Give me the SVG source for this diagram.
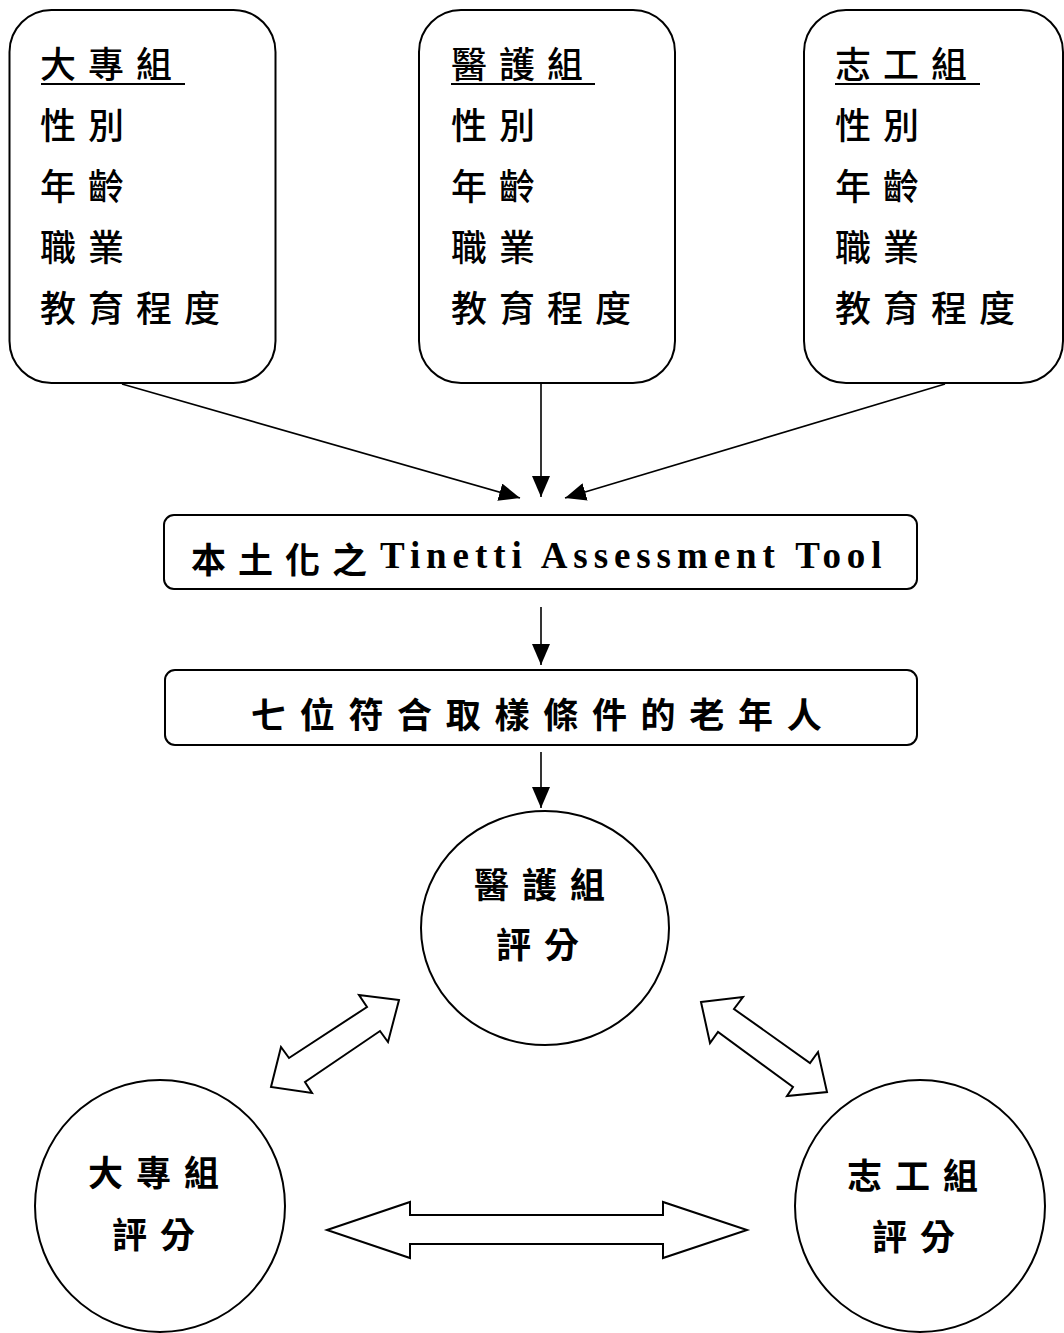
<svg xmlns="http://www.w3.org/2000/svg" width="1064" height="1333" viewBox="0 0 1064 1333">
<style>
.box{fill:#fff;stroke:#000;stroke-width:2}
.cjk{font-family:"Noto Sans CJK TC","Noto Sans CJK SC",sans-serif;fill:#000}
.lst{font-size:36px;letter-spacing:12px;font-weight:500}
.bt{font-size:35px;font-weight:700}
.lat{font-family:"Liberation Serif","Times New Roman",serif;font-weight:700;font-size:37px;letter-spacing:5.5px;fill:#000}
.ul{stroke:#000;stroke-width:2.2}
.con{stroke:#000;stroke-width:1.6;fill:none}
.dbl{fill:#fff;stroke:#000;stroke-width:2;stroke-linejoin:miter}
</style>
<defs>
<marker id="ah" markerUnits="userSpaceOnUse" markerWidth="22" markerHeight="18" refX="21" refY="9" orient="auto">
<path d="M0,0 L21,9 L0,18 z" fill="#000"/>
</marker>
</defs>
<rect width="1064" height="1333" fill="#fff"/>

<g id="box-dazhuan">
<rect class="box" x="9.5" y="10" width="266" height="373" rx="42"/>
<text class="cjk lst" x="40" y="78">大專組</text>
<line class="ul" x1="41" y1="84" x2="185" y2="84"/>
<text class="cjk lst" x="40" y="139">性別</text>
<text class="cjk lst" x="40" y="200">年齡</text>
<text class="cjk lst" x="40" y="261">職業</text>
<text class="cjk lst" x="40" y="322">教育程度</text>
</g>

<g id="box-yihu">
<rect class="box" x="419" y="10" width="256" height="373" rx="42"/>
<text class="cjk lst" x="451" y="78">醫護組</text>
<line class="ul" x1="451" y1="84" x2="595" y2="84"/>
<text class="cjk lst" x="451" y="139">性別</text>
<text class="cjk lst" x="451" y="200">年齡</text>
<text class="cjk lst" x="451" y="261">職業</text>
<text class="cjk lst" x="451" y="322">教育程度</text>
</g>

<g id="box-zhigong">
<rect class="box" x="804" y="10" width="259" height="373" rx="42"/>
<text class="cjk lst" x="835" y="78">志工組</text>
<line class="ul" x1="835" y1="84" x2="980" y2="84"/>
<text class="cjk lst" x="835" y="139">性別</text>
<text class="cjk lst" x="835" y="200">年齡</text>
<text class="cjk lst" x="835" y="261">職業</text>
<text class="cjk lst" x="835" y="322">教育程度</text>
</g>

<g id="tool">
<rect class="box" x="164" y="515" width="753" height="74" rx="10"/>
<text class="cjk bt" x="191" y="573" letter-spacing="12">本土化之</text>
<text class="lat" x="380" y="568" textLength="507" lengthAdjust="spacing">Tinetti Assessment Tool</text>
</g>

<g id="elders">
<rect class="box" x="165" y="670" width="752" height="75" rx="10"/>
<text class="cjk bt" x="251" y="728" letter-spacing="13.7">七位符合取樣條件的老年人</text>
</g>

<g id="score-yihu">
<ellipse class="box" cx="545" cy="928" rx="124" ry="117"/>
<text class="cjk bt" x="474" y="898" letter-spacing="13">醫護組</text>
<text class="cjk bt" x="496" y="958" letter-spacing="13">評分</text>
</g>

<g id="score-dazhuan">
<ellipse class="box" cx="160" cy="1206" rx="125" ry="126"/>
<text class="cjk bt" x="88" y="1186" letter-spacing="13">大專組</text>
<text class="cjk bt" x="112" y="1248" letter-spacing="13">評分</text>
</g>

<g id="score-zhigong">
<ellipse class="box" cx="920" cy="1206" rx="125" ry="126"/>
<text class="cjk bt" x="847" y="1189" letter-spacing="13">志工組</text>
<text class="cjk bt" x="872" y="1250" letter-spacing="13">評分</text>
</g>

<g id="connectors">
<line class="con" x1="122" y1="384" x2="520" y2="498" marker-end="url(#ah)"/>
<line class="con" x1="541" y1="384" x2="541" y2="497" marker-end="url(#ah)"/>
<line class="con" x1="945" y1="384" x2="565" y2="498" marker-end="url(#ah)"/>
<line class="con" x1="541" y1="607" x2="541" y2="665" marker-end="url(#ah)"/>
<line class="con" x1="541" y1="752" x2="541" y2="808" marker-end="url(#ah)"/>
<polygon class="dbl" points="399,1000 359,995 367,1007 289,1058 281,1047 271,1087 312,1093 305,1082 380,1031 388,1042"/>
<polygon class="dbl" points="701,1002 743,997 734,1009 810,1063 818,1052 827,1092 787,1096 793,1087 718,1032 710,1043"/>
<polygon class="dbl" points="327,1230 410,1202 410,1215 663,1215 663,1202 747,1230 663,1258 663,1244 410,1244 410,1258"/>
</g>
</svg>
